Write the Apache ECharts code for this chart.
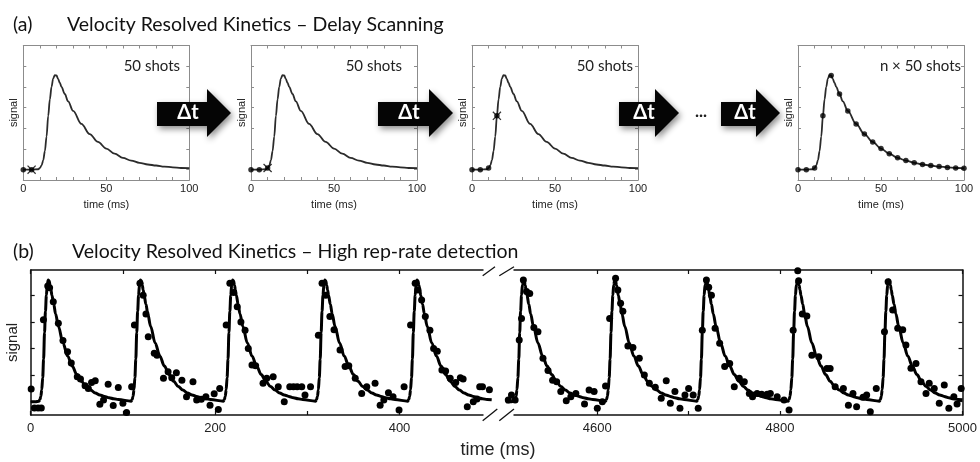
<!DOCTYPE html>
<html>
<head>
<meta charset="utf-8">
<script src="https://cdn.jsdelivr.net/npm/echarts@6/dist/echarts.min.js"></script>
<style>
html, body { margin: 0; padding: 0; background: #fff; }
#chart { width: 980px; height: 462px; }
</style>
</head>
<body>
<div id="chart"></div>
<script>
// Single kinetic trace: time after photolysis (ms) and signal (arb. units)
const curveTime   = [0, 5, 9, 10, 11, 12, 13, 14, 15, 16, 17, 18, 19, 20, 21, 22, 23, 25, 27, 30, 35, 40, 45, 50, 55, 60, 65, 70, 75, 80, 85, 90, 95, 100];
const curveSignal = [0, 0, 0.02, 0.08, 0.2, 0.45, 0.9, 1.6, 2.6, 3.4, 4.0, 4.4, 4.57, 4.55, 4.38, 4.2, 4.0, 3.66, 3.3, 2.84, 2.21, 1.72, 1.34, 1.02, 0.77, 0.57, 0.44, 0.33, 0.25, 0.2, 0.15, 0.11, 0.08, 0.07];

// Delay scanning: delays already measured in each frame, and the delay being measured now
const scanDone1 = [0];
const scanDone2 = [0, 5];
const scanDone3 = [0, 5, 10];
const scanDone4 = [0, 5, 10, 15, 20, 25, 30, 35, 40, 45, 50, 55, 60, 65, 70, 75, 80, 85, 90, 95, 100];
const scanCurrent = [5, 10, 15, null];
const shotLabels = ['50 shots', '50 shots', '50 shots', 'n \u00d7 50 shots'];
const scanTickLabels = [0, 50, 100];

// High rep-rate detection: photolysis pulse times (ms) and measured shots [time, signal]
const pulseStartsEarly = [0, 100, 200, 300, 400];
const pulseStartsLate  = [4500, 4600, 4700, 4800, 4900];
const shotsEarly = [
  [0.5,0.48],[4,-0.24],[8,-0.24],[11.5,-0.24],[13.8,3.08],[18.5,4.35],[20.5,4.28],[24.5,3.76],[30,2.95],[35,2.3],[40,1.88],[44,1.45],[50.5,0.94],[54,0.85],[59,0.6],[62.5,0.5],[66,0.72],[70,0.79],[75,-0.1],[79,0.06],[84,0.66],[89.5,-0.14],[95,0.53],[100,-0.06],[104,-0.41],
  [109.5,0.56],[112.5,2.88],[118.5,4.45],[122,4.0],[125,3.3],[127.5,2.44],[134,1.82],[137,1.75],[144,0.88],[149,1.13],[153,0.9],[158,1.09],[164,0.81],[169,0.19],[176,0.75],[180,0.06],[185,0.09],[190,0.19],[194.5,-0.13],[199,0.3],[203.5,-0.29],
  [205,0.5],[212,2.88],[216,4.45],[220,4.1],[224,3.57],[228,3.0],[232.5,2.69],[236,2.0],[240,1.38],[244,1.35],[252,0.69],[256,0.88],[263,0.94],[268.5,0.56],[275,0],[281,0.56],[285,0.56],[289,0.56],[294,0.56],[297.5,0.25],[303.5,0.56],
  [312,2.5],[316,4.45],[320,4.0],[324.5,3.2],[329,2.7],[335.5,1.94],[341,1.32],[345,1.35],[352,0.88],[359,0.31],[364.5,0.56],[373.5,0.69],[379,-0.13],[383,0.06],[388,0.34],[393,0.19],[399.5,-0.31],
  [405,0.56],[412,2.88],[417,4.45],[420,4.2],[424,3.82],[428,3.2],[433,2.69],[437,2.0],[441,1.9],[446,1.19],[450,1.15],[455,0.88],[461,0.72],[466,0.9],[469,0.85],[473.5,-0.19],[480,0],[484,0.1],[487,0.56],[490,0.56],[497.5,0.45]
];
const shotsLate = [
  [4502.5,0.06],[4506,0.25],[4510,0.06],[4514.5,2.32],[4517,3.13],[4519,4.57],[4522.5,4.14],[4526,4.07],[4530.5,2.79],[4535,2.63],[4540.5,1.63],[4546,1.17],[4551,0.81],[4555.5,0.75],[4560,0.38],[4566,0.04],[4571,0.19],[4576.5,0.31],[4586,-0.09],[4591,0.44],[4596.5,0.38],[4600,-0.25],[4605.5,0],
  [4609,0.59],[4613.5,3.13],[4620,4.64],[4622.5,4.2],[4625.5,3.7],[4628,3.4],[4633.5,2.09],[4639,2.04],[4646,1.63],[4651.5,1.0],[4657,0.69],[4663.5,0.54],[4670,0.13],[4675.5,0.79],[4680,-0.06],[4685,0.38],[4690.5,-0.25],[4696,0.25],[4700,0.5],[4705,0.25],[4710.5,-0.25],
  [4715,2.69],[4719.5,4.57],[4722,4.3],[4725,4.0],[4729,2.76],[4734,2.2],[4739.5,1.32],[4745,1.44],[4750,0.56],[4755.5,0.88],[4761,0.75],[4766.5,0.31],[4770,0.19],[4775,0.31],[4780,0.28],[4786,0.28],[4789.5,0.31],[4797,0.19],[4804.5,0.06],[4810,-0.31],
  [4814.5,2.69],[4819.5,4.92],[4820.5,4.55],[4824.5,3.3],[4829.5,3.22],[4835,1.75],[4842.5,1.69],[4851.5,1.25],[4855,1.25],[4860.5,0.56],[4869.5,0.5],[4875,-0.13],[4880,0.31],[4884,-0.19],[4891,0.17],[4895,0.25],[4899,-0.38],[4905.5,0.5],
  [4914.5,2.63],[4918.5,4.51],[4923.5,3.45],[4929,2.76],[4934.5,2.7],[4938,2.13],[4943.5,1.26],[4949,1.44],[4954.5,0.75],[4960,0.31],[4963.5,0.69],[4969,0.5],[4974.5,-0.06],[4980,0.63],[4985,-0.25],[4990.5,0.19],[4994,-0.09],[4998.5,0.5]
];
const burstLabelsEarly = [0, 200, 400];
const burstLabelsLate  = [4600, 4800, 5000];

// ---------------------------------------------------------------------------
const chart = echarts.init(document.getElementById('chart'), null, { renderer: 'canvas' });

const SANS = 'Liberation Sans, Arial, Helvetica, sans-serif';
const TEXT = 'Lato, Open Sans, sans-serif';

function signalAt(t) {
  const i = curveTime.indexOf(t);
  return curveSignal[i];
}
function curvePairs() {
  return curveTime.map((t, i) => [t, curveSignal[i]]);
}
// repeat the single-pulse trace at each pulse time
function pulseTrain(starts) {
  const out = [];
  starts.forEach((s, k) => {
    curveTime.forEach((t, i) => {
      if (i === curveTime.length - 1) return;
      if (k > 0 && t < 9) return;
      out.push([s + t, curveSignal[i]]);
    });
  });
  const last = starts[starts.length - 1];
  out.push([last + 100, curveSignal[curveSignal.length - 1]]);
  return out;
}

const scanDone = [scanDone1, scanDone2, scanDone3, scanDone4];
const smallLeft = [23.3, 251, 472, 798];
const smallW = 166;
const smallTop = 45.5, smallH = 134.5;

const grayLine = { show: true, onZero: false, lineStyle: { color: '#8c8c8c', width: 1 } };
const grayTick = { show: true, inside: true, length: 3, lineStyle: { color: '#8c8c8c', width: 1 } };
const blackLine = { show: true, onZero: false, lineStyle: { color: '#111', width: 1.5 } };
const blackTick = { show: true, inside: true, length: 4, lineStyle: { color: '#111', width: 1.2 } };

const grid = [], xAxis = [], yAxis = [], series = [];

smallLeft.forEach((left, i) => {
  grid.push({ left: left, top: smallTop, width: smallW, height: smallH, containLabel: false });
  xAxis.push({
    gridIndex: i, type: 'value', min: 0, max: 100, interval: 10, position: 'bottom',
    axisLine: grayLine, axisTick: grayTick, splitLine: { show: false },
    axisLabel: { formatter: v => scanTickLabels.includes(v) ? String(v) : '', fontSize: 11, color: '#222', fontFamily: SANS, margin: 3 },
    name: 'time (ms)', nameLocation: 'middle', nameGap: 19,
    nameTextStyle: { fontSize: 11, color: '#222', fontFamily: SANS }
  });
  xAxis.push({
    gridIndex: i, type: 'value', min: 0, max: 100, interval: 10, position: 'top',
    axisLine: grayLine, axisTick: grayTick, splitLine: { show: false }, axisLabel: { show: false }
  });
  yAxis.push({
    gridIndex: i, type: 'value', min: -0.5, max: 6, position: 'left',
    axisLine: grayLine, axisTick: Object.assign({}, grayTick, { customValues: [0, 1, 2, 3, 4, 5] }),
    splitLine: { show: false }, axisLabel: { show: false },
    name: 'signal', nameLocation: 'middle', nameRotate: 90, nameGap: 4,
    nameTextStyle: { fontSize: 11, color: '#222', fontFamily: SANS }
  });
  yAxis.push({
    gridIndex: i, type: 'value', min: -0.5, max: 6, position: 'right',
    axisLine: grayLine, axisTick: Object.assign({}, grayTick, { customValues: [0, 1, 2, 3, 4, 5] }),
    splitLine: { show: false }, axisLabel: { show: false }
  });

  series.push({
    type: 'line', xAxisIndex: 2 * i, yAxisIndex: 2 * i, data: curvePairs(),
    smooth: 0.35, smoothMonotone: 'x', showSymbol: false, silent: true,
    lineStyle: { color: '#2b2b2b', width: 1.8 }, z: 3
  });
  series.push({
    type: 'scatter', xAxisIndex: 2 * i, yAxisIndex: 2 * i,
    data: scanDone[i].map(t => [t, signalAt(t)]),
    symbol: 'circle', symbolSize: 5.5, itemStyle: { color: '#000' }, silent: true, z: 4
  });
  if (scanCurrent[i] !== null) {
    const t = scanCurrent[i];
    series.push({
      type: 'scatter', xAxisIndex: 2 * i, yAxisIndex: 2 * i, data: [[t, signalAt(t)]],
      symbol: 'circle', symbolSize: 5.5, itemStyle: { color: '#000' }, silent: true, z: 4
    });
    series.push({
      type: 'scatter', xAxisIndex: 2 * i, yAxisIndex: 2 * i, data: [[t, signalAt(t)]],
      symbol: 'path://M0,1L1,0L5,4L9,0L10,1L6,5L10,9L9,10L5,6L1,10L0,9L4,5Z',
      symbolSize: 9, itemStyle: { color: '#000' }, silent: true, z: 5
    });
  }
});

// panel (b): two segments of one time axis with a break
const bTop = 270, bH = 145;
grid.push({ left: 30.7, top: bTop, width: 461, height: bH });
grid.push({ left: 506, top: bTop, width: 460.7, height: bH });

function burstX(gi, min, max, labels, pos) {
  return {
    gridIndex: gi, type: 'value', min: min, max: max, interval: 100, position: pos,
    axisLine: blackLine, axisTick: blackTick, splitLine: { show: false },
    axisLabel: pos === 'bottom'
      ? { formatter: v => labels.includes(v) ? String(v) : '', fontSize: 13, color: '#222', fontFamily: SANS, margin: 7 }
      : { show: false }
  };
}
xAxis.push(burstX(4, 0, 500, burstLabelsEarly, 'bottom'));
xAxis.push(burstX(4, 0, 500, burstLabelsEarly, 'top'));
xAxis.push(burstX(5, 4500, 5000, burstLabelsLate, 'bottom'));
xAxis.push(burstX(5, 4500, 5000, burstLabelsLate, 'top'));
yAxis.push({
  gridIndex: 4, type: 'value', min: -0.5, max: 4.95, position: 'left',
  axisLine: blackLine, axisTick: Object.assign({}, blackTick, { customValues: [0, 1, 2, 3, 4] }),
  splitLine: { show: false }, axisLabel: { show: false },
  name: 'signal', nameLocation: 'middle', nameRotate: 90, nameGap: 10,
  nameTextStyle: { fontSize: 15, color: '#222', fontFamily: SANS }
});
yAxis.push({
  gridIndex: 5, type: 'value', min: -0.5, max: 4.95, position: 'right',
  axisLine: blackLine, axisTick: Object.assign({}, blackTick, { customValues: [0, 1, 2, 3, 4] }),
  splitLine: { show: false }, axisLabel: { show: false }
});

[[8, 8, pulseStartsEarly, shotsEarly], [10, 9, pulseStartsLate, shotsLate]].forEach(([xi, yi, starts, shots]) => {
  series.push({
    type: 'line', xAxisIndex: xi, yAxisIndex: yi, data: pulseTrain(starts),
    smooth: 0.35, smoothMonotone: 'x', showSymbol: false, silent: true,
    lineStyle: { color: '#000', width: 3 }, z: 3
  });
  series.push({
    type: 'scatter', xAxisIndex: xi, yAxisIndex: yi, data: shots,
    symbol: 'circle', symbolSize: 7, itemStyle: { color: '#000', opacity: 1 }, silent: true, z: 4, clip: false
  });
});

// arrows between the delay-scan frames
function arrow(x0, xHead, xTip) {
  return {
    type: 'polygon', z: 1, silent: true,
    shape: { points: [[x0, 102], [xHead, 102], [xHead, 89], [xTip, 113], [xHead, 137], [xHead, 126], [x0, 126]] },
    style: { fill: '#050505', shadowBlur: 6, shadowColor: 'rgba(0,0,0,0.45)', shadowOffsetX: 2, shadowOffsetY: 3 }
  };
}
function txt(x, y, text, font, fill, align, extra) {
  return Object.assign({
    type: 'text', z: 50, silent: true,
    style: { x: x, y: y, text: text, font: font, fill: fill, textAlign: align, textVerticalAlign: 'middle', align: align, verticalAlign: 'middle' }
  }, extra || {});
}

const graphic = [
  arrow(157, 207, 231), arrow(378, 429, 453), arrow(619, 655, 679), arrow(721, 756, 780),
  txt(188, 113, '\u0394t', 'bold 20px ' + TEXT, '#fff', 'center'),
  txt(409, 113, '\u0394t', 'bold 20px ' + TEXT, '#fff', 'center'),
  txt(644, 113, '\u0394t', 'bold 20px ' + TEXT, '#fff', 'center'),
  txt(745, 113, '\u0394t', 'bold 20px ' + TEXT, '#fff', 'center'),
  txt(701, 112, '...', 'bold 17px ' + TEXT, '#222', 'center'),
  txt(13, 25, '(a)', '19.5px ' + TEXT, '#111', 'left'),
  txt(67, 25, 'Velocity Resolved Kinetics \u2013 Delay Scanning', '19.5px ' + TEXT, '#111', 'left'),
  txt(13, 252, '(b)', '19.5px ' + TEXT, '#111', 'left'),
  txt(72, 252, 'Velocity Resolved Kinetics \u2013 High rep-rate detection', '19.5px ' + TEXT, '#111', 'left'),
  txt(498, 450, 'time (ms)', '18px ' + SANS, '#222', 'center'),
  // axis break marks
  { type: 'rect', z: 60, silent: true, shape: { x: 483.5, y: 266, width: 30, height: 8 }, style: { fill: '#fff' } },
  { type: 'rect', z: 60, silent: true, shape: { x: 483.5, y: 411, width: 30, height: 8 }, style: { fill: '#fff' } },
  { type: 'line', z: 61, silent: true, shape: { x1: 482.7, y1: 275.7, x2: 495, y2: 266.7 }, style: { stroke: '#111', lineWidth: 1.3 } },
  { type: 'line', z: 61, silent: true, shape: { x1: 499.3, y1: 275.7, x2: 514, y2: 266.7 }, style: { stroke: '#111', lineWidth: 1.3 } },
  { type: 'line', z: 61, silent: true, shape: { x1: 482.7, y1: 420.7, x2: 497.3, y2: 409 }, style: { stroke: '#111', lineWidth: 1.3 } },
  { type: 'line', z: 61, silent: true, shape: { x1: 499.3, y1: 420.7, x2: 514, y2: 409 }, style: { stroke: '#111', lineWidth: 1.3 } }
];
const shotRight = [180, 402, 633, 961];
shotLabels.forEach((s, i) => graphic.push(txt(shotRight[i], 66, s, '15px ' + TEXT, '#222', 'right')));

chart.setOption({
  animation: false,
  backgroundColor: '#fff',
  grid: grid,
  xAxis: xAxis,
  yAxis: yAxis,
  series: series,
  graphic: graphic
});
</script>
</body>
</html>
